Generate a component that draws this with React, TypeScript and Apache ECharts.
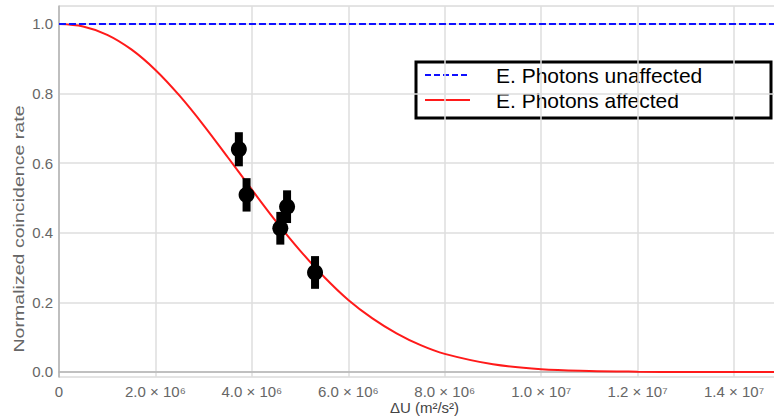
import React, { useEffect, useRef } from "react";
import * as echarts from "echarts";

// Fitted curve (x in m^2/s^2, y normalized rate)
const curveX = [0, 0.5e6, 1e6, 1.5e6, 2e6, 2.5e6, 3e6, 3.5e6, 4e6, 4.5e6, 5e6, 5.5e6, 6e6, 6.5e6, 7e6, 7.5e6, 8e6, 9e6, 10e6, 11e6, 12e6, 13e6, 14e6, 14.87e6];
const curveY = [1.0, 0.993, 0.969, 0.927, 0.868, 0.794, 0.709, 0.617, 0.524, 0.433, 0.349, 0.273, 0.207, 0.154, 0.111, 0.077, 0.052, 0.022, 0.008, 0.003, 0.001, 0.0, 0.0, 0.0];

// Reference (unaffected) level
const flatX = [0, 14.87e6];
const flatY = [1.0, 1.0];

// Measured points with error bars
const pointX = [3.73e6, 3.89e6, 4.59e6, 4.73e6, 5.31e6];
const pointY = [0.64, 0.509, 0.413, 0.475, 0.286];
const pointErr = [0.049, 0.048, 0.047, 0.047, 0.047];

const xTicks = [0, 2e6, 4e6, 6e6, 8e6, 10e6, 12e6, 14e6];
const yTicks = [0, 0.2, 0.4, 0.6, 0.8, 1.0];

const seriesNames = ["E. Photons unaffected", "E. Photons affected"];
const xTitle = "ΔU (m²/s²)";
const yTitle = "Normalized coincidence rate";

const SUP: Record<string, string> = { "0": "⁰", "1": "¹", "2": "²", "3": "³", "4": "⁴", "5": "⁵", "6": "⁶", "7": "⁷", "8": "⁸", "9": "⁹" };

function sci(v: number): string {
  if (v === 0) return "0";
  const e = Math.floor(Math.log10(v) + 1e-9);
  const m = v / Math.pow(10, e);
  const sup = String(e).split("").map((c) => SUP[c] || c).join("");
  return `${m.toFixed(1)} × 10${sup}`;
}

const FONT = "'Liberation Sans', Arial, Helvetica, sans-serif";

export default function App() {
  const ref = useRef<HTMLDivElement>(null);
  useEffect(() => {
    if (!ref.current) return;
    const chart = echarts.init(ref.current, undefined, { renderer: "svg" });
    const option: any = {
      animation: false,
      backgroundColor: "#ffffff",
      textStyle: { fontFamily: FONT },
      grid: {
        left: 59,
        top: 6,
        right: -2,
        bottom: 40,
        outerBoundsMode: "none",
        containLabel: false,
        show: true,
        borderColor: "#c8c8c8",
        borderWidth: 1,
        backgroundColor: "transparent",
      },
      xAxis: {
        type: "value",
        min: 0,
        max: 14.87e6,
        name: xTitle,
        nameLocation: "middle",
        nameGap: 22,
        nameMoveOverlap: false,
        nameTextStyle: { fontSize: 15, lineHeight: 16, color: "#444", fontFamily: FONT, padding: [0, 0, 0, 14] },
        axisLine: { show: true, lineStyle: { color: "#b4b4b4", width: 1.5 } },
        axisTick: { show: false, customValues: xTicks },
        axisLabel: {
          customValues: xTicks,
          formatter: (v: number) => sci(v),
          fontSize: 15,
          color: "#666",
          margin: 7,
          fontFamily: FONT,
        },
        splitLine: { show: true, lineStyle: { color: "#dedede", width: 1.5 } },
      },
      yAxis: {
        type: "value",
        min: -0.0144,
        max: 1.0517,
        axisLine: { show: true, lineStyle: { color: "#b4b4b4", width: 1.5 } },
        axisTick: { show: false, customValues: yTicks },
        axisLabel: {
          customValues: yTicks,
          formatter: (v: number) => v.toFixed(1),
          fontSize: 15,
          color: "#666",
          margin: 6,
          fontFamily: FONT,
        },
        splitLine: { show: true, lineStyle: { color: "#dedede", width: 1.5 } },
      },
      series: [
        {
          name: seriesNames[1],
          type: "line",
          data: curveX.map((x, i) => [x, curveY[i]]),
          smooth: 0.35,
          showSymbol: false,
          symbol: "none",
          lineStyle: { color: "#ff1a1a", width: 2 },
          z: 2,
        },
        {
          name: seriesNames[0],
          type: "line",
          data: flatX.map((x, i) => [x, flatY[i]]),
          showSymbol: false,
          symbol: "none",
          lineStyle: { color: "#1010ff", width: 2, type: [7, 3] },
          z: 3,
        },
        {
          name: "error",
          type: "custom",
          data: pointX.map((x, i) => [x, pointY[i], pointErr[i]]),
          encode: { x: 0, y: 1 },
          renderItem: (params: any, api: any) => {
            const x = api.value(0);
            const y = api.value(1);
            const e = api.value(2);
            const top = api.coord([x, y + e]);
            const bot = api.coord([x, y - e]);
            return {
              type: "rect",
              shape: { x: top[0] - 4, y: top[1], width: 8, height: bot[1] - top[1] },
              style: { fill: "#000" },
            };
          },
          z: 4,
        },
        {
          name: "data",
          type: "scatter",
          data: pointX.map((x, i) => [x, pointY[i]]),
          symbol: "circle",
          symbolSize: 16,
          itemStyle: { color: "#000", opacity: 1 },
          z: 5,
        },
      ],
      graphic: [
        {
          type: "text",
          x: 19,
          y: 229,
          rotation: Math.PI / 2,
          scaleX: 1.4,
          style: {
            text: yTitle,
            fontSize: 14,
            fill: "#666",
            align: "center",
            verticalAlign: "middle",
            fontFamily: FONT,
          },
          z: 10,
        },
        {
          type: "group",
          z: 20,
          children: [
            {
              type: "rect",
              shape: { x: 416, y: 62, width: 355, height: 56 },
              style: { fill: "#fff", stroke: "#000", lineWidth: 3 },
            },
            {
              type: "line",
              shape: { x1: 425, y1: 75, x2: 470, y2: 75 },
              style: { stroke: "#1010ff", lineWidth: 2, lineDash: [6, 3] },
            },
            {
              type: "line",
              shape: { x1: 425, y1: 100, x2: 470, y2: 100 },
              style: { stroke: "#ff1a1a", lineWidth: 2 },
            },
            {
              type: "text",
              x: 496,
              y: 75,
              style: { text: seriesNames[0], fontSize: 21, fill: "#000", verticalAlign: "middle", fontFamily: FONT },
            },
            {
              type: "text",
              x: 496,
              y: 100,
              style: { text: seriesNames[1], fontSize: 21, fill: "#000", verticalAlign: "middle", fontFamily: FONT },
            },
          ],
        },
      ],
    };
    chart.setOption(option);
    return () => chart.dispose();
  }, []);
  return <div ref={ref} style={{ position: "absolute", left: 0, top: 0, width: 774, height: 417 }} />;
}
